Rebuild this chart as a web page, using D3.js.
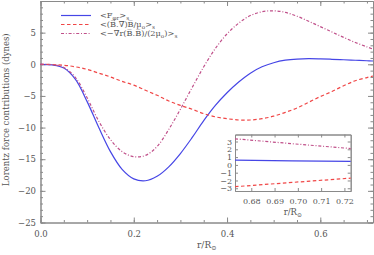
<!DOCTYPE html>
<html>
<head>
<meta charset="utf-8">
<script src="https://cdn.jsdelivr.net/npm/d3@7"></script>
<style>
  body { margin: 0; background: #fff; }
  text { font-family: "DejaVu Serif", serif; fill: #555; }
</style>
</head>
<body>
<div id="chart"></div>
<script>
// Values (r / R_sun and force in dynes)
const radius = [0, 0.025, 0.05, 0.075, 0.1, 0.125, 0.15, 0.175, 0.2, 0.225, 0.25, 0.275, 0.3, 0.325, 0.35,
  0.375, 0.4, 0.425, 0.45, 0.475, 0.5, 0.525, 0.55, 0.575, 0.6, 0.625, 0.65, 0.675, 0.7, 0.713];
const totalForce = [0, -0.1, -0.6, -2.4, -5.9, -10.0, -13.8, -16.6, -18.1, -18.4, -17.7, -16.2, -14.1, -11.6, -8.9,
  -6.5, -4.5, -2.8, -1.4, -0.4, 0.25, 0.65, 0.83, 0.88, 0.85, 0.79, 0.72, 0.64, 0.56, 0.52];
const tensionForce = [0, -0.05, -0.15, -0.4, -0.8, -1.4, -2.0, -2.7, -3.3, -4.1, -4.9, -5.8, -6.5, -7.1, -7.8,
  -8.3, -8.6, -8.8, -8.8, -8.6, -8.2, -7.6, -6.9, -6.0, -5.1, -4.3, -3.4, -2.6, -2.1, -1.85];
const pressureForce = [0, -0.05, -0.5, -2.1, -5.3, -9.0, -11.9, -13.8, -14.6, -14.4, -13.0, -10.3, -7.1, -3.7, -0.4,
  2.5, 4.8, 6.5, 7.7, 8.3, 8.45, 8.2, 7.6, 6.8, 5.95, 5.1, 4.25, 3.45, 2.75, 2.4];

const xTicks = [0, 0.2, 0.4, 0.6];
const yTicks = [-25, -20, -15, -10, -5, 0, 5];

// inset: zoom on the outer edge
const insetRadius = [0.673, 0.6975, 0.7227];
const insetTotal = [0.6, 0.52, 0.45];
const insetTension = [-2.8, -2.25, -1.7];
const insetPressure = [3.35, 2.72, 2.1];
const insetXTicks = [0.68, 0.69, 0.70, 0.71, 0.72];
const insetYTicks = [-3, -2, -1, 0, 1, 2, 3];

const colors = { total: "#4646e6", tension: "#f04646", pressure: "#c0508a" };
const axisColor = "#8a8a8a";

const W = 374, H = 255;
const margin = { top: 1, right: 1, bottom: 32.5, left: 40.5 };
const width = W - margin.left - margin.right;
const height = H - margin.top - margin.bottom;

const svg = d3.select("#chart").append("svg")
  .attr("width", W).attr("height", H);

const g = svg.append("g").attr("transform", `translate(${margin.left},${margin.top})`);

const x = d3.scaleLinear().domain([0, 0.713]).range([0, width]);
const y = d3.scaleLinear().domain([-25, 10]).range([height, 0]);

function styleAxis(sel) {
  sel.select(".domain").attr("stroke", axisColor);
  sel.selectAll(".tick line").attr("stroke", axisColor);
  sel.selectAll(".tick text").attr("fill", "#555");
}

// rich text helper: parts = [[string, "n" | "sub"]]
function richText(sel, parts, size, subShift = 2.2) {
  let shift = 0;
  parts.forEach(([s, kind]) => {
    const want = kind === "sub" ? subShift : 0;
    sel.append("tspan")
      .attr("dy", want - shift)
      .attr("font-size", kind === "sub" ? size * 0.7 : size)
      .text(s);
    shift = want;
  });
}

// minor ticks
const xMinor = d3.range(0, 0.713, 0.05);
const yMinor = d3.range(-25, 10.01, 1);

function frame(gr, xs, ys, opt) {
  const w = xs.range()[1], h = ys.range()[0];
  gr.append("g").attr("transform", `translate(0,${h})`)
    .call(d3.axisBottom(xs).tickValues(opt.xMinor).tickSize(-opt.minor).tickSizeOuter(0).tickFormat(""))
    .call(styleAxis);
  gr.append("g")
    .call(d3.axisTop(xs).tickValues(opt.xMinor).tickSize(-opt.minor).tickSizeOuter(0).tickFormat(""))
    .call(styleAxis);
  gr.append("g")
    .call(d3.axisLeft(ys).tickValues(opt.yMinor).tickSize(-opt.minor).tickSizeOuter(0).tickFormat(""))
    .call(styleAxis);
  gr.append("g").attr("transform", `translate(${w},0)`)
    .call(d3.axisRight(ys).tickValues(opt.yMinor).tickSize(-opt.minor).tickSizeOuter(0).tickFormat(""))
    .call(styleAxis);

  const bx = gr.append("g").attr("transform", `translate(0,${h})`)
    .call(d3.axisBottom(xs).tickValues(opt.xTicks).tickSize(-opt.major).tickSizeOuter(0)
      .tickPadding(opt.xPad).tickFormat(opt.xFmt))
    .call(styleAxis);
  bx.selectAll("text").attr("font-size", opt.font).attr("font-family", "DejaVu Serif");
  gr.append("g")
    .call(d3.axisTop(xs).tickValues(opt.xTicks).tickSize(-opt.major).tickSizeOuter(0).tickFormat(""))
    .call(styleAxis);
  const ly = gr.append("g")
    .call(d3.axisLeft(ys).tickValues(opt.yTicks).tickSize(-opt.major).tickSizeOuter(0).tickPadding(opt.yPad))
    .call(styleAxis);
  ly.selectAll("text").attr("font-size", opt.font).attr("font-family", "DejaVu Serif");
  gr.append("g").attr("transform", `translate(${w},0)`)
    .call(d3.axisRight(ys).tickValues(opt.yTicks).tickSize(-opt.major).tickSizeOuter(0).tickFormat(""))
    .call(styleAxis);
}

frame(g, x, y, {
  xMinor, yMinor, xTicks, yTicks, minor: 2.5, major: 5, xPad: 8, yPad: 4.5,
  xFmt: d3.format(".1f"), font: 8.5
});

// curves
const series = [
  { values: totalForce, color: colors.total, dash: null },
  { values: tensionForce, color: colors.tension, dash: "3.5,2.5" },
  { values: pressureForce, color: colors.pressure, dash: "3,1.8,1,1.8" }
];

const line = d3.line().curve(d3.curveCatmullRom)
  .x(d => x(d[0])).y(d => y(d[1]));

series.forEach(s => {
  g.append("path")
    .datum(radius.map((r, i) => [r, s.values[i]]))
    .attr("d", line)
    .attr("fill", "none")
    .attr("stroke", s.color)
    .attr("stroke-width", 1.2)
    .attr("stroke-dasharray", s.dash);
});

// legend
const legendItems = [
  [["<F", "n"], ["φr", "sub"], [">", "n"], ["s", "sub"]],
  [["<(B\u0305.\u2207\u0305)B\u0305/μ", "n"], ["o", "sub"], [">", "n"], ["s", "sub"]],
  [["<−∇r(B\u0305.B\u0305)/(2μ", "n"], ["o", "sub"], [")>", "n"], ["s", "sub"]]
];
legendItems.forEach((parts, i) => {
  const ly = 15.5 + i * 9;
  svg.append("line")
    .attr("x1", 61).attr("x2", 91).attr("y1", ly).attr("y2", ly)
    .attr("stroke", series[i].color).attr("stroke-width", 1.2)
    .attr("stroke-dasharray", series[i].dash);
  const t = svg.append("text").attr("x", 100).attr("y", ly + 2.5).attr("font-size", 8.2);
  richText(t, parts, 8.2, 1.6);
});

// axis titles
const xt = svg.append("text")
  .attr("x", margin.left + width / 2).attr("y", 248)
  .attr("text-anchor", "middle").attr("font-size", 9);
richText(xt, [["r/R", "n"], ["⊙", "sub"]], 9);

svg.append("text")
  .attr("transform", `translate(9,${margin.top + height / 2 - 2}) rotate(-90)`)
  .attr("text-anchor", "middle").attr("font-size", 8.5)
  .text("Lorentz force contributions (dynes)");

// inset
const inset = { left: 235, top: 134.5, right: 350.7, bottom: 191 };
const ig = svg.append("g").attr("transform", `translate(${inset.left},${inset.top})`);
const xi = d3.scaleLinear().domain([0.673, 0.7227]).range([0, inset.right - inset.left]);
const yi = d3.scaleLinear().domain([-3.35, 3.9]).range([inset.bottom - inset.top, 0]);

ig.append("rect").attr("width", xi.range()[1]).attr("height", yi.range()[0]).attr("fill", "#fff");

frame(ig, xi, yi, {
  xMinor: [], yMinor: [], xTicks: insetXTicks, yTicks: insetYTicks, minor: 0, major: 3,
  xPad: 7, yPad: 3, xFmt: d3.format(".2f"), font: 8
});

const lineInset = d3.line().x(d => xi(d[0])).y(d => yi(d[1]));
[insetTotal, insetTension, insetPressure].forEach((vals, i) => {
  ig.append("path")
    .datum(insetRadius.map((r, k) => [r, vals[k]]))
    .attr("d", lineInset)
    .attr("fill", "none")
    .attr("stroke", series[i].color)
    .attr("stroke-width", 1.2)
    .attr("stroke-dasharray", series[i].dash);
});

const it = svg.append("text")
  .attr("x", (inset.left + inset.right) / 2).attr("y", 214.5)
  .attr("text-anchor", "middle").attr("font-size", 8.5);
richText(it, [["r/R", "n"], ["⊙", "sub"]], 8.5);
</script>
</body>
</html>
